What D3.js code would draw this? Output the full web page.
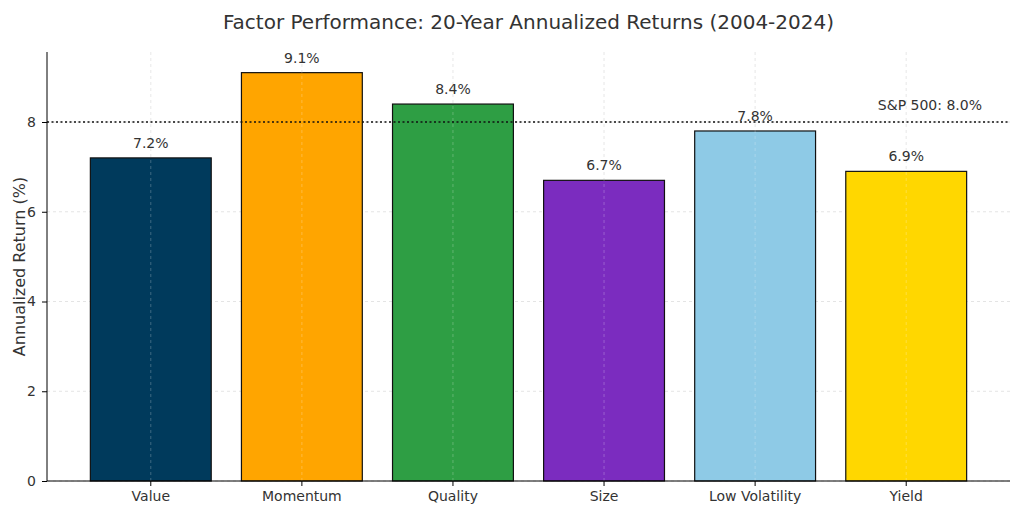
<!DOCTYPE html>
<html><head><meta charset="utf-8">
<script src="https://cdn.jsdelivr.net/npm/d3@7"></script>
<style>body{margin:0;background:#fff;font-family:"DejaVu Sans",sans-serif;}</style>
</head><body>
<script>
const factors = ["Value", "Momentum", "Quality", "Size", "Low Volatility", "Yield"];
const returns = [7.2, 9.1, 8.4, 6.7, 7.8, 6.9];
const colors = ["#003a5c", "#ffa500", "#2e9e44", "#7b2cbf", "#8ecae6", "#ffd700"];
const yTicks = [0, 2, 4, 6, 8];
const benchmark = 8.0;

const W = 1024, H = 512;
const m = {left: 47, right: 1010, top: 52, bottom: 481};

const svg = d3.select("body").append("svg").attr("width", W).attr("height", H);

const x = d3.scaleBand().domain(factors).range([m.left, m.right])
  .paddingInner(0.2).paddingOuter(0.287);
const y = d3.scaleLinear().domain([0, 9.56]).range([m.bottom, m.top]);

// grid
svg.append("g").selectAll("line").data(yTicks).join("line")
  .attr("x1", m.left).attr("x2", m.right)
  .attr("y1", d => y(d)).attr("y2", d => y(d))
  .attr("stroke", "#ddd").attr("stroke-dasharray", "3,3").attr("stroke-width", 0.8);
svg.append("g").selectAll("line").data(factors).join("line")
  .attr("x1", d => x(d) + x.bandwidth() / 2).attr("x2", d => x(d) + x.bandwidth() / 2)
  .attr("y1", m.top).attr("y2", m.bottom)
  .attr("stroke", "#ddd").attr("stroke-dasharray", "3,3").attr("stroke-width", 0.8);

// bars
svg.append("g").selectAll("rect").data(factors).join("rect")
  .attr("x", d => x(d)).attr("width", x.bandwidth())
  .attr("y", (d, i) => y(returns[i])).attr("height", (d, i) => y(0) - y(returns[i]))
  .attr("fill", (d, i) => colors[i]).attr("stroke", "#111").attr("stroke-width", 1.2);

// grid over bars (matplotlib draws it on top)
svg.append("g").selectAll("line").data(factors).join("line")
  .attr("x1", d => x(d) + x.bandwidth() / 2).attr("x2", d => x(d) + x.bandwidth() / 2)
  .attr("y1", m.top).attr("y2", m.bottom)
  .attr("stroke", "#fff").attr("stroke-opacity", 0.3).attr("stroke-dasharray", "3,3").attr("stroke-width", 0.8);

svg.append("g").selectAll("text").data(factors).join("text")
  .attr("x", d => x(d) + x.bandwidth() / 2)
  .attr("y", (d, i) => y(returns[i]) - 10)
  .attr("text-anchor", "middle").attr("font-size", 14).attr("fill", "#333")
  .text((d, i) => returns[i].toFixed(1) + "%");

// benchmark
svg.append("line").attr("x1", m.left).attr("x2", m.right)
  .attr("y1", y(benchmark)).attr("y2", y(benchmark))
  .attr("stroke", "#111").attr("stroke-width", 1.6).attr("stroke-dasharray", "2,2.5");
svg.append("text").attr("x", 982).attr("y", y(benchmark) - 12)
  .attr("text-anchor", "end").attr("font-size", 14).attr("fill", "#333")
  .text("S&P 500: " + benchmark.toFixed(1) + "%");

// axes
const ya = svg.append("g").attr("transform", `translate(${m.left},0)`)
  .call(d3.axisLeft(y).tickValues(yTicks).tickSize(5).tickPadding(6));
ya.selectAll("text").attr("font-size", 14).attr("fill", "#333").attr("font-family", "DejaVu Sans");
ya.select(".domain").attr("d", `M0,${m.top}V${m.bottom}`);
const xa = svg.append("g").attr("transform", `translate(0,${m.bottom})`)
  .call(d3.axisBottom(x).tickSize(5).tickPadding(5));
xa.selectAll("text").attr("font-size", 14).attr("fill", "#333").attr("font-family", "DejaVu Sans");
xa.select(".domain").attr("d", `M${m.left},0H${m.right}`);

svg.append("text").attr("transform", `translate(25,${(m.top + m.bottom) / 2}) rotate(-90)`)
  .attr("text-anchor", "middle").attr("font-size", 16).attr("fill", "#333")
  .text("Annualized Return (%)");
svg.append("text").attr("x", (m.left + m.right) / 2).attr("y", 29)
  .attr("text-anchor", "middle").attr("font-size", 20).attr("fill", "#333")
  .text("Factor Performance: 20-Year Annualized Returns (2004-2024)");
</script>
</body></html>
